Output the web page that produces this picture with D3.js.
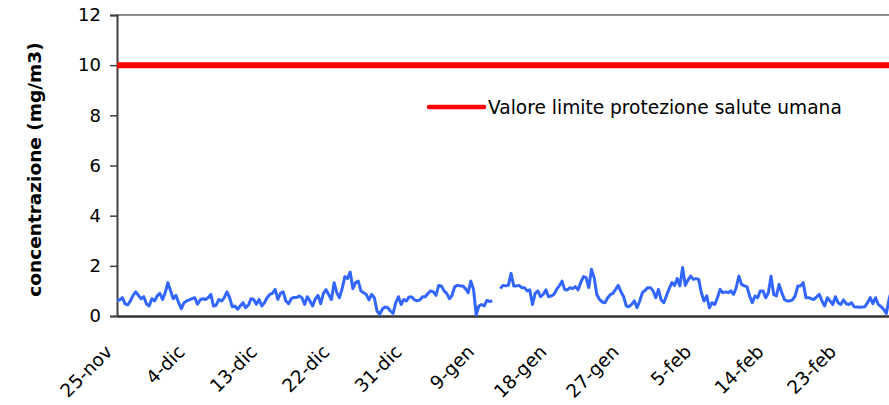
<!DOCTYPE html>
<html>
<head>
<meta charset="utf-8">
<script src="https://cdn.jsdelivr.net/npm/d3@7"></script>
<style>
    body { margin: 0; background: #fff; }
    svg { display: block; }
</style>
</head>
<body>
<div id="chart"></div>
<script>
// 8-hour values, one every 8 hours from 25-nov 00:00 (null = missing)
var co8h = [
    0.6, 0.64, 0.73, 0.48, 0.44, 0.6, 0.82, 0.96, 0.82, 0.69, 0.77, 0.48, 0.4, 0.69, 0.6, 0.8, 0.9, 0.66, 0.93, 1.33,
    1.0, 0.69, 0.82, 0.53, 0.29, 0.53, 0.6, 0.64, 0.69, 0.73, 0.47, 0.64, 0.69, 0.66, 0.73, 0.86, 0.4, 0.43, 0.66, 0.6,
    0.73, 0.96, 0.73, 0.37, 0.4, 0.27, 0.4, 0.53, 0.33, 0.43, 0.69, 0.66, 0.47, 0.66, 0.4, 0.53, 0.73, 0.86, 0.9, 1.06,
    0.66, 0.9, 0.96, 0.6, 0.49, 0.69, 0.74, 0.74, 0.8, 0.73, 0.46, 0.77, 0.6, 0.4, 0.69, 0.82, 0.49, 0.9, 1.05, 0.85,
    0.66, 1.33, 0.93, 0.73, 1.09, 1.57, 1.49, 1.75, 1.09, 1.33, 1.39, 1.0, 0.93, 0.86, 0.64, 0.86, 0.73, 0.2, 0.07, 0.27,
    0.36, 0.33, 0.2, 0.1, 0.53, 0.77, 0.46, 0.66, 0.6, 0.76, 0.76, 0.64, 0.6, 0.64, 0.77, 0.77, 0.9, 1.0,
    0.96, 0.82, 1.22, 1.2, 1.0, 0.9, 0.69, 0.82, 1.17, 1.22, 1.2, 1.2, 1.09, 0.93, 1.39, 1.06, 0.05, 0.4, 0.46, 0.4,
    0.62, 0.58, 0.6, null, null, 1.09, 1.22, 1.2, 1.22, 1.7, 1.2, 1.2, 1.22, 1.13, 1.13, 1.0, 1.04, 0.46, 0.9, 1.0,
    0.77, 0.86, 1.04, 0.77, 0.8, 0.86, 1.06, 1.2, 1.39, 1.06, 1.04, 1.13, 1.09, 1.17, 1.04, 1.33, 1.57, 1.53,
    1.13, 1.86, 1.53, 0.86, 0.66, 0.56, 0.53, 0.72, 0.85, 0.9, 1.06, 1.22, 0.97, 0.77, 0.4, 0.37, 0.46, 0.6, 0.33, 0.6,
    0.93, 1.02, 1.13, 1.13, 1.0, 0.73, 1.06, 0.64, 0.53, 0.82, 1.09, 1.33, 1.22, 1.49, 1.2, 1.93, 1.22, 1.43, 1.59, 1.46,
    1.49, 1.46, 0.93, 0.6, 0.8, 0.33, 0.53, 0.46, 0.73, 1.06, 0.93, 0.96, 0.93, 1.0, 0.86, 1.13, 1.59, 1.26,
    1.2, 1.17, 0.8, 0.53, 0.8, 0.73, 1.0, 1.0, 0.73, 0.93, 1.59, 0.86, 0.8, 1.26, 0.93, 0.66, 0.6, 0.6, 0.64, 0.8,
    1.2, 1.2, 1.33, 0.73, 0.73, 0.69, 0.66, 0.76, 0.86, 0.6, 0.4, 0.73, 0.6, 0.46, 0.77, 0.53, 0.46, 0.64, 0.49, 0.46,
    0.53, 0.37, 0.36, 0.35, 0.36, 0.37, 0.53, 0.73, 0.49, 0.73, 0.46, 0.37, 0.27, 0.1, 0.66, 1.06, 1.06
];

var startDate = "2008-11-25";
var endDate = "2009-03-01";
var limitValue = 10;
var limitLabel = "Valore limite protezione salute umana";
var yTicks = [0, 2, 4, 6, 8, 10, 12];
var xTickDates = ["2008-11-25", "2008-12-04", "2008-12-13", "2008-12-22", "2008-12-31", "2009-01-09",
    "2009-01-18", "2009-01-27", "2009-02-05", "2009-02-14", "2009-02-23"];
var xTickLabels = ["25-nov", "4-dic", "13-dic", "22-dic", "31-dic", "9-gen",
    "18-gen", "27-gen", "5-feb", "14-feb", "23-feb"];
var yTitle = "concentrazione (mg/m3)";

var W = 889, H = 405;
var margin = { top: 15, right: 0, bottom: 89, left: 117 },
    width = W - margin.left - margin.right,
    height = H - margin.top - margin.bottom;

var font = "'DejaVu Sans', Verdana, sans-serif";
var parseDay = d3.timeParse("%Y-%m-%d");
var t0 = parseDay(startDate);

var data = co8h.map(function(v, i) {
    return { date: d3.timeHour.offset(t0, i * 8), value: v };
});

var svg = d3.select("#chart").append("svg")
    .attr("width", W)
    .attr("height", H);

svg.append("rect").attr("width", W).attr("height", H).attr("fill", "#fff");

svg.append("defs").append("clipPath")
    .attr("id", "clip")
    .append("rect")
    .attr("width", width)
    .attr("height", height + 2)
    .attr("y", -1);

var g = svg.append("g")
    .attr("transform", "translate(" + margin.left + "," + margin.top + ")");

var x = d3.scaleTime()
    .domain([t0, parseDay(endDate)])
    .range([0, width]);

var y = d3.scaleLinear()
    .domain([0, 12])
    .range([height, 0]);

// top border of plot area
g.append("line")
    .attr("x1", 0).attr("x2", width)
    .attr("y1", 0).attr("y2", 0)
    .attr("stroke", "#8c8c8c")
    .attr("stroke-width", 2);

// y axis
var yAxis = g.append("g")
    .call(d3.axisLeft(y).tickValues(yTicks).tickSize(7).tickPadding(9).tickFormat(d3.format("d")));
yAxis.select(".domain").attr("stroke", "#404040").attr("stroke-width", 2);
yAxis.selectAll(".tick line").attr("stroke", "#404040").attr("stroke-width", 1.5);
yAxis.selectAll(".tick text")
    .style("font-family", font)
    .style("font-size", "18px")
    .attr("fill", "#000");

// x axis
var xAxis = g.append("g")
    .attr("transform", "translate(0," + height + ")")
    .call(d3.axisBottom(x)
        .tickValues(xTickDates.map(parseDay))
        .tickSize(0)
        .tickFormat(function(d, i) { return xTickLabels[i]; }));
xAxis.select(".domain").attr("stroke", "#333").attr("stroke-width", 2.5);
xAxis.selectAll(".tick text")
    .style("font-family", font)
    .style("font-size", "18.5px")
    .attr("fill", "#000")
    .attr("text-anchor", "end")
    .attr("y", 0)
    .attr("dy", 0)
    .attr("transform", "translate(-4,37) rotate(-45)");

// limit line
g.append("line")
    .attr("x1", 0).attr("x2", width)
    .attr("y1", y(limitValue)).attr("y2", y(limitValue))
    .attr("stroke", "#ff0000")
    .attr("stroke-width", 6);

// concentration line
var line = d3.line()
    .defined(function(d) { return d.value != null; })
    .x(function(d) { return x(d.date); })
    .y(function(d) { return y(d.value); });

g.append("path")
    .datum(data)
    .attr("clip-path", "url(#clip)")
    .attr("fill", "none")
    .attr("stroke", "#3366ff")
    .attr("stroke-width", 3)
    .attr("stroke-linejoin", "round")
    .attr("d", line);

// legend
var legend = svg.append("g").attr("transform", "translate(429,107)");
legend.append("line")
    .attr("x1", 0).attr("x2", 55)
    .attr("y1", 0).attr("y2", 0)
    .attr("stroke", "#ff0000")
    .attr("stroke-width", 4.5)
    .attr("stroke-linecap", "round");
legend.append("text")
    .attr("x", 59)
    .attr("y", 7)
    .style("font-family", font)
    .style("font-size", "18.6px")
    .text(limitLabel);

// y title
svg.append("text")
    .attr("transform", "translate(41," + (margin.top + height / 2 + 4) + ") rotate(-90)")
    .attr("text-anchor", "middle")
    .style("font-family", font)
    .style("font-size", "18.5px")
    .style("font-weight", "bold")
    .text(yTitle);
</script>
</body>
</html>
